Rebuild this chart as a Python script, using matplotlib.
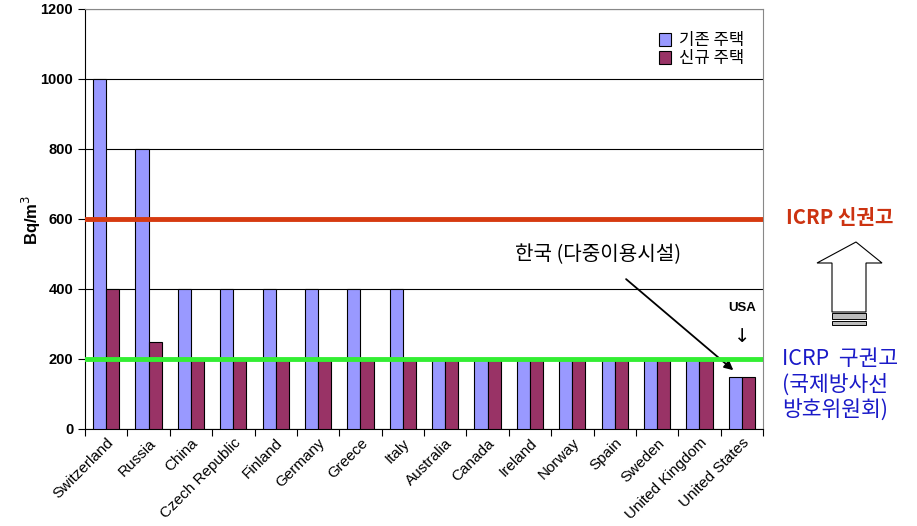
import matplotlib
matplotlib.use("Agg")
import matplotlib.pyplot as plt
import numpy as np
from matplotlib.patches import Polygon, Rectangle

plt.rcParams['font.family'] = ['Liberation Sans', 'Noto Sans CJK KR', 'DejaVu Sans']

countries = ["Switzerland", "Russia", "China", "Czech Republic", "Finland", "Germany",
             "Greece", "Italy", "Australia", "Canada", "Ireland", "Norway", "Spain",
             "Sweden", "United Kingdom", "United States"]
existing = [1000, 800, 400, 400, 400, 400, 400, 400, 200, 200, 200, 200, 200, 200, 200, 150]
new = [400, 250, 200, 200, 200, 200, 200, 200, 200, 200, 200, 200, 200, 200, 200, 150]
series_names = ["기존 주택", "신규 주택"]
new_rec = 600
old_rec = 200
yticks = [0, 200, 400, 600, 800, 1000, 1200]

W, H = 917, 526
fig = plt.figure(figsize=(W / 100, H / 100), dpi=100)
ax = fig.add_axes([85 / W, 1 - 429 / H, (763 - 85) / W, (429 - 9) / H])

x = np.arange(len(countries))
bw = 0.31
ax.bar(x - bw / 2, existing, bw, color="#9999FF", edgecolor="black", linewidth=0.8,
       label=series_names[0], zorder=3)
ax.bar(x + bw / 2, new, bw, color="#993366", edgecolor="black", linewidth=0.8,
       label=series_names[1], zorder=3)

ax.axhline(new_rec, color="#D63A10", linewidth=3.5, zorder=4)
ax.axhline(old_rec, color="#33EE33", linewidth=3.5, zorder=4)

ax.set_xlim(-0.5, len(countries) - 0.5)
ax.set_ylim(0, 1200)
ax.set_yticks(yticks)
ax.set_yticklabels([str(v) for v in yticks], fontsize=10.5, fontweight="bold")
ax.yaxis.grid(True, color="black", linewidth=0.8, zorder=0)
ax.set_axisbelow(True)

ax.set_xticks(np.arange(len(countries) + 1) - 0.5, minor=False)
ax.set_xticklabels([])
ax.set_xticks(x, minor=True)
ax.set_xticklabels(countries, minor=True, rotation=45, ha="right",
                   rotation_mode="anchor", fontsize=11)
ax.tick_params(axis="x", which="minor", length=0, pad=5)
ax.tick_params(axis="x", which="major", length=5, direction="out")
ax.tick_params(axis="y", length=5, direction="out")

for s in ["top", "right"]:
    ax.spines[s].set_color("#888888")
for s in ["left", "bottom"]:
    ax.spines[s].set_color("black")

ax.set_ylabel("Bq/m$^3$", fontsize=12, fontweight="bold")
ax.yaxis.set_label_coords(-(85 - 43) / (763 - 85), (429 - 220) / 420)

leg = ax.legend(loc="upper right", bbox_to_anchor=(0.995, 0.98), frameon=False,
                prop={"family": ["Noto Sans CJK KR"], "size": 12},
                handlelength=0.75, handleheight=0.75, handletextpad=0.5, labelspacing=0.05)

ax.text(x[-1], 345, "USA", ha="center", va="center", fontsize=9.5, fontweight="bold")
ax.text(x[-1], 265, "↓", ha="center", va="center", fontsize=14, family=["DejaVu Sans"])

ax.annotate("한국 (다중이용시설)", xy=(14.8, 168), xytext=(11.6, 497),
            ha="center", va="center", fontsize=14.5, family=["Noto Sans CJK KR"],
            arrowprops=dict(arrowstyle="-|>", color="black", lw=1.3,
                            shrinkA=12, shrinkB=0, mutation_scale=13))

# Right-side annotations in figure coordinates
def fx(px):
    return px / W

def fy(py):
    return 1 - py / H

fig.text(fx(840), fy(218), "ICRP 신권고", color="#CC3311", fontsize=14.5,
         fontweight="bold", ha="center", va="center", family=["Noto Sans CJK KR"])

arrow_pts = [(856, 242), (882, 263), (866, 263), (866, 312), (832, 312),
             (832, 263), (817, 263)]
fig.patches.append(Polygon([(fx(a), fy(b)) for a, b in arrow_pts], closed=True,
                           facecolor="white", edgecolor="black", linewidth=0.8,
                           transform=fig.transFigure))
for y0, y1 in [(313, 319), (321, 325)]:
    fig.patches.append(Rectangle((fx(832), fy(y1)), fx(866) - fx(832), fy(y0) - fy(y1),
                                 facecolor="#BBBBBB", edgecolor="black", linewidth=0.7,
                                 transform=fig.transFigure))

fig.text(fx(782), fy(385), "ICRP  구권고\n(국제방사선\n방호위원회)", color="#1A1AC8",
         fontsize=15.5, ha="left", va="center", linespacing=1.2,
         family=["Noto Sans CJK KR"])

fig.savefig("out.png", dpi=100)
